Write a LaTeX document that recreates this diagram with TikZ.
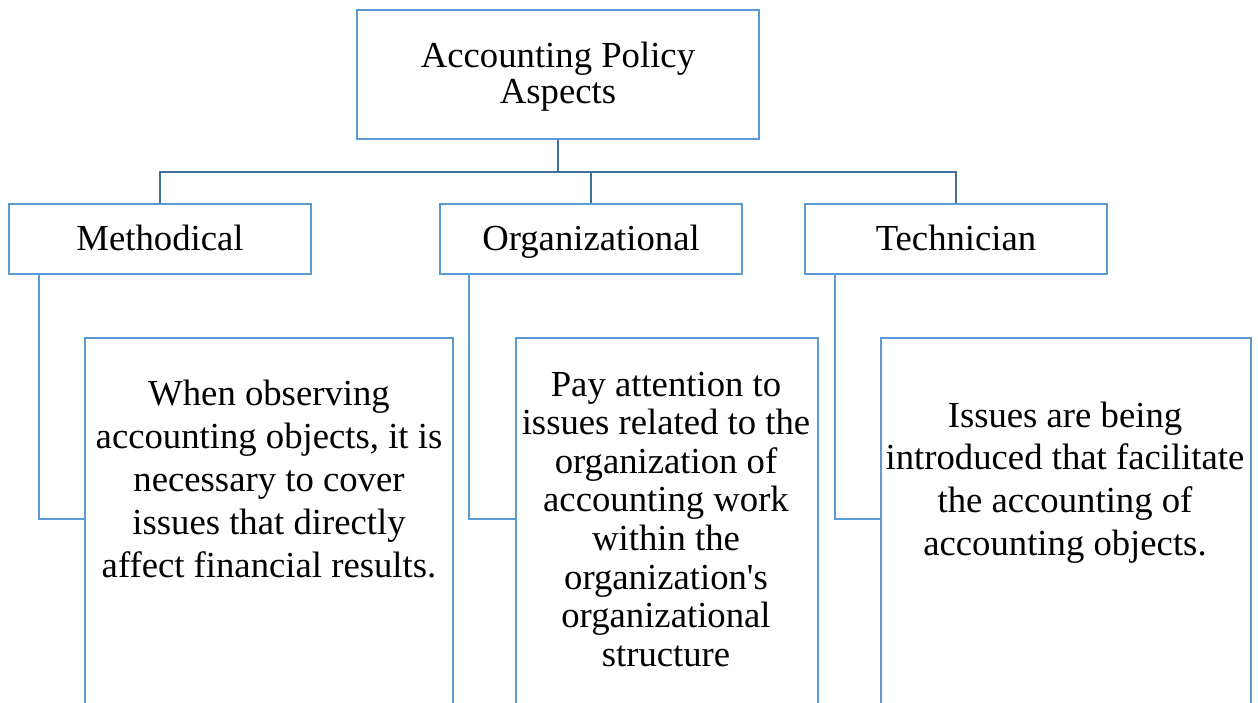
\documentclass[tikz,border=0pt]{standalone}
\usepackage{fontspec}
\setmainfont{Liberation Serif}
\definecolor{boxblue}{HTML}{5B9BD5}
\definecolor{linkblue}{HTML}{41719C}
\tikzset{
  box/.style={draw=boxblue, line width=2.5pt, fill=white, rectangle, inner sep=0pt},
  catbox/.style={box, minimum width=302pt, minimum height=70pt, text height=22pt, text depth=0pt},
  detbox/.style={box, minimum height=422pt, overlay},
  txt/.style={align=center, inner sep=0pt, anchor=north},
  link/.style={draw=linkblue, line width=2.5pt},
  sidelink/.style={draw=boxblue, line width=2.5pt},
}
\newcommand{\bigf}[1]{\fontsize{36.7pt}{#1}\selectfont}
\begin{document}
\begin{tikzpicture}[x=1pt, y=-1pt]
\useasboundingbox[fill=white] (0,0) rectangle (1258,702);
% top
\node[box, minimum width=402pt, minimum height=129pt, align=center, font=\bigf{36pt}] (top) at (558,74.5)
  {\rule{0pt}{30pt}Accounting Policy\\Aspects};
% categories
\node[catbox, font=\bigf{43pt}] (meth) at (160,239) {Methodical};
\node[catbox, font=\bigf{43pt}] (org) at (591,239) {Organizational};
\node[catbox, font=\bigf{43pt}] (tech) at (956,239) {Technician};
% detail boxes
\node[detbox, minimum width=368pt] (dm) at (269,549) {};
\node[detbox, minimum width=302pt] (do) at (667,549) {};
\node[detbox, minimum width=370pt] (dt) at (1066,549) {};
% texts
\node[txt, font=\bigf{43pt}] (tm) at (269,375)
  {\rule{0pt}{30pt}When observing\\accounting objects, it is\\necessary to cover\\issues that directly\\affect financial results.};
\node[txt, font=\bigf{38.57pt}] (to) at (666,366)
  {\rule{0pt}{30pt}Pay attention to\\issues related to the\\organization of\\accounting work\\within the\\organization\textquotesingle s\\organizational\\structure};
\node[txt, font=\bigf{42.67pt}] (tt) at (1065,397)
  {\rule{0pt}{30pt}Issues are being\\introduced that facilitate\\the accounting of\\accounting objects.};
% hierarchy connectors
\coordinate (hub) at (558,172);
\draw[link] (top.south) -- (hub);
\draw[link] (hub) -| (meth.north);
\draw[link] (hub) -| (org.north);
\draw[link] (hub) -| (tech.north);
% side connectors
\draw[sidelink] ([xshift=31pt]meth.south west) |- ([yshift=-182pt]dm.north west);
\draw[sidelink] ([xshift=30pt]org.south west) |- ([yshift=-182pt]do.north west);
\draw[sidelink] ([xshift=31pt]tech.south west) |- ([yshift=-182pt]dt.north west);
\end{tikzpicture}
\end{document}
